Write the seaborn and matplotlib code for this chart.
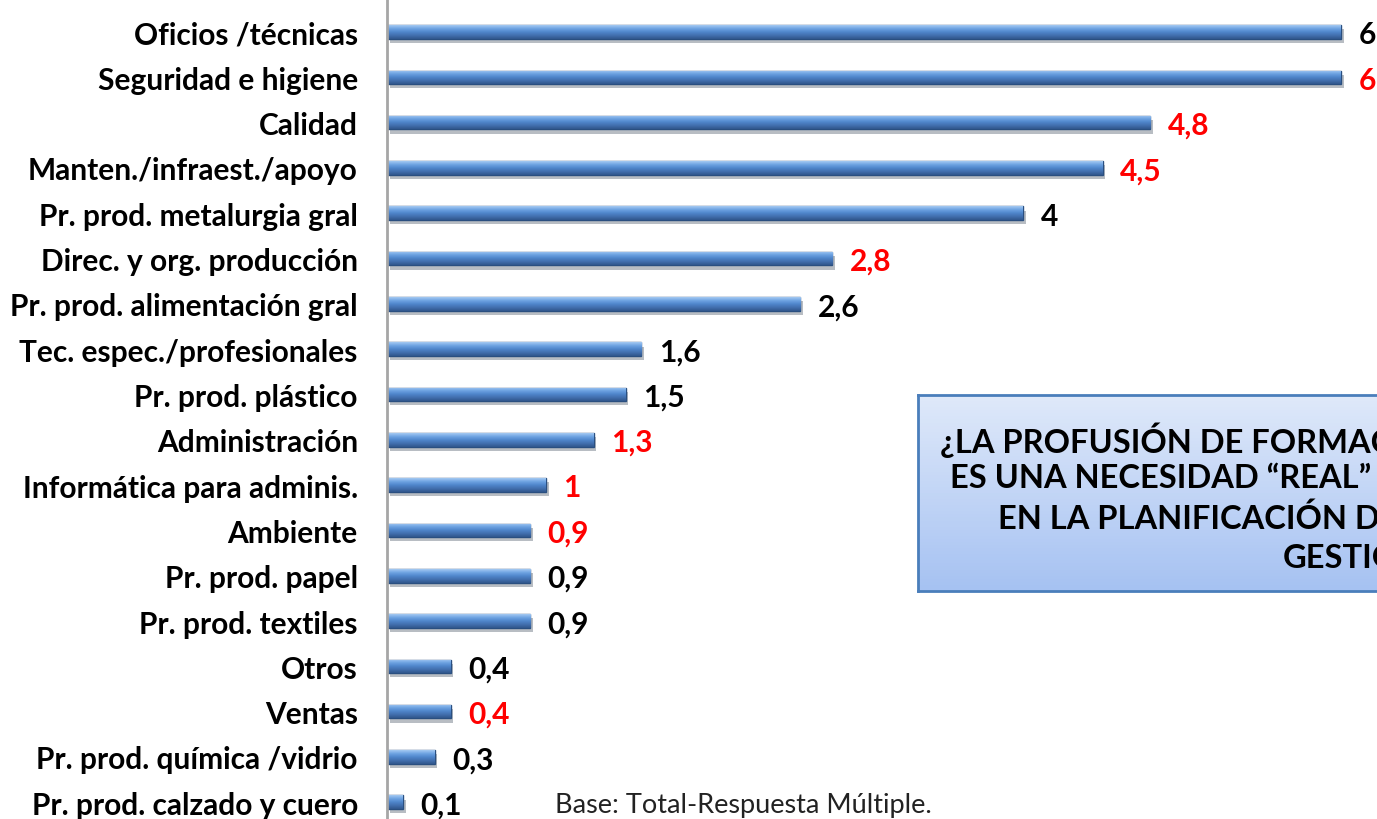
import numpy as np
import pandas as pd
import matplotlib.pyplot as plt
import matplotlib.patheffects as pe
from matplotlib.colors import LinearSegmentedColormap
import seaborn as sns

categories = ['Oficios /técnicas', 'Seguridad e higiene', 'Calidad',
              'Manten./infraest./apoyo', 'Pr. prod. metalurgia gral',
              'Direc. y org. producción', 'Pr. prod. alimentación gral',
              'Tec. espec./profesionales', 'Pr. prod. plástico', 'Administración',
              'Informática para adminis.', 'Ambiente', 'Pr. prod. papel',
              'Pr. prod. textiles', 'Otros', 'Ventas', 'Pr. prod. química /vidrio',
              'Pr. prod. calzado y cuero']
values = [6, 6, 4.8, 4.5, 4, 2.8, 2.6, 1.6, 1.5, 1.3, 1, 0.9, 0.9, 0.9, 0.4, 0.4, 0.3, 0.1]
highlight = [False, True, True, True, False, True, False, False, False, True,
             True, True, False, False, False, True, False, False]

box_lines = ['¿LA PROFUSIÓN DE FORMACIÓN',
             'ES UNA NECESIDAD “REAL” U',
             'EN LA PLANIFICACIÓN DE',
             'GESTIÓN']
note = 'Base: Total-Respuesta Múltiple.'

sns.set_theme(style='white')
plt.rcParams['font.family'] = ['Lato', 'DejaVu Sans']

df = pd.DataFrame({'cat': categories, 'val': values})

W, H = 1377, 820
fig = plt.figure(figsize=(W / 100, H / 100), dpi=100)
ax = fig.add_axes([387 / W, 0, 1 - 387 / W, 1])

sns.barplot(data=df, x='val', y='cat', orient='h', color='#4A80C4', width=0.3,
            edgecolor='#2A4F80', linewidth=1.0, saturation=1, ax=ax)

# glossy look: vertical gradient clipped to each bar
bar_cmap = LinearSegmentedColormap.from_list(
    'bar', ['#A4C9F2', '#6EA3E2', '#4F86CB', '#426FAE', '#30578C'])
grad = np.linspace(0, 1, 64).reshape(-1, 1)
for p in ax.patches:
    p.set_path_effects([pe.SimplePatchShadow(offset=(2, -3), alpha=0.3), pe.Normal()])
    x0, y0 = p.get_x(), p.get_y()
    w, h = p.get_width(), p.get_height()
    im = ax.imshow(grad, cmap=bar_cmap, aspect='auto', interpolation='bilinear',
                   extent=[x0, x0 + w, y0 + h, y0], zorder=p.get_zorder() + 0.1)
    im.set_clip_path(p)

ax.set_xlim(0, (W - 387) / 159)
ax.set_ylim(17.37, -0.73)
ax.set_aspect('auto')
ax.set_xlabel('')
ax.set_ylabel('')
ax.set_xticks([])
for s in ['top', 'right', 'bottom']:
    ax.spines[s].set_visible(False)
ax.spines['left'].set_color('#A6A6A6')
ax.spines['left'].set_linewidth(2)
ax.tick_params(axis='y', length=0, pad=21)
for lab in ax.get_yticklabels():
    lab.set_fontweight('bold')
    lab.set_fontsize(21.5)
    lab.set_color('black')

for i, v in enumerate(values):
    txt = f'{v:g}'.replace('.', ',')
    ax.text(v + 0.11, i + 0.05, txt, va='center', ha='left', fontsize=21.5,
            fontweight='bold', color='red' if highlight[i] else 'black')

# light blue gradient box, cut by the right edge
bx = fig.add_axes([918 / W, 1 - 592 / H, 0.5, (592 - 396) / H])
bx.imshow(grad, aspect='auto', cmap=LinearSegmentedColormap.from_list('bx', ['#DFE9FA', '#A6C2F2']),
          extent=[0, 1, 0, 1], origin='upper')
bx.set_xticks([])
bx.set_yticks([])
for s in bx.spines.values():
    s.set_color('#4A7EBB')
    s.set_linewidth(2)

box_x = [940, 950, 998, 1283]
box_y = [440, 479, 519, 558]
for t, x, y in zip(box_lines, box_x, box_y):
    fig.text(x / W, 1 - y / H, t, ha='left', va='center', fontsize=23.5,
             fontweight='bold', color='black')

fig.text(555 / W, 1 - 806 / H, note, ha='left', va='center', fontsize=19.5, color='#222222')

fig.savefig('out.png', dpi=100)
